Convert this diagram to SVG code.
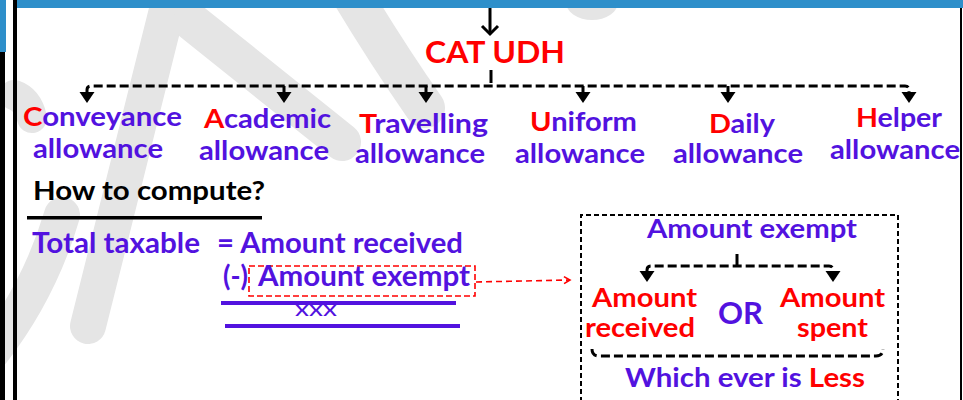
<svg xmlns="http://www.w3.org/2000/svg" width="963" height="400" viewBox="0 0 963 400">
<defs>
<style>
.t{font-family:Lato,"Open Sans","Liberation Sans",sans-serif;font-weight:700;}
.p{fill:#5212df;}
.r{fill:#ff0000;}
.k{fill:#000;}
.wm{fill:none;stroke:#e5e5e5;stroke-linecap:round;}
.dash{fill:none;stroke:#000;stroke-width:3;stroke-dasharray:9 4;}
.solid{fill:none;stroke:#000;stroke-width:3;}
</style>
<path id="tri" d="M-7.5,0 L7.5,0 L0,11 Z" fill="#000"/>
<marker id="redhead" markerWidth="10" markerHeight="10" refX="8" refY="5" orient="auto" markerUnits="userSpaceOnUse">
<path d="M2,1.5 L8,5 L2,8.5" fill="none" stroke="#ff0000" stroke-width="1.6"/>
</marker>
</defs>
<rect width="963" height="400" fill="#fff"/>
<g id="watermark">
<path class="wm" stroke-width="36" d="M172,-10 L88,326"/>
<path class="wm" stroke-width="36" d="M-8,352 Q40,290 62,215"/>
<path class="wm" stroke-width="30" d="M14,95 Q28,100 32,118"/>
<path class="wm" stroke-width="38" d="M192,22 L342,142"/>
<path class="wm" stroke-width="40" d="M350,-8 Q388,55 425,108"/>
<ellipse cx="592" cy="2" rx="26" ry="18" fill="#e5e5e5"/>
</g>
<g id="frame">
<rect x="16" y="0" width="947" height="8" fill="#2e8fca"/>
<rect x="0" y="0" width="6" height="52" fill="#2e8fca"/>
<rect x="0" y="52" width="5" height="348" fill="#000"/>
<rect x="13" y="0" width="4" height="400" fill="#000"/>
<rect x="960" y="8" width="2" height="392" fill="#000"/>
</g>
<g id="connectors">
<path class="solid" d="M490,8 V34"/>
<path class="solid" d="M482,26 L490,34 L498,26"/>
<path class="solid" d="M491,70 V83"/>
<path class="dash" d="M87,94 V90 Q87,86 91,86 H905 Q909,86 909,90 V94"/>
<path class="solid" d="M284,86 V94 M426,86 V94 M583,86 V94 M728,86 V94"/>
<use href="#tri" x="87" y="92"/>
<use href="#tri" x="284" y="92"/>
<use href="#tri" x="426" y="92"/>
<use href="#tri" x="583" y="92"/>
<use href="#tri" x="728" y="92"/>
<use href="#tri" x="909" y="92"/>
<line x1="221" y1="303" x2="456" y2="303" stroke="#5212df" stroke-width="4"/>
<line x1="225" y1="326" x2="460" y2="326" stroke="#5212df" stroke-width="4"/>
<rect x="249" y="266" width="226" height="30" fill="none" stroke="#ff0000" stroke-width="1.6" stroke-dasharray="6 3"/>
<path d="M476,282 L570,280" fill="none" stroke="#ff0000" stroke-width="1.6" stroke-dasharray="6 4" marker-end="url(#redhead)"/>
<path d="M581,402 V215 H898 V402" fill="none" stroke="#000" stroke-width="2" stroke-dasharray="5 3"/>
<path class="solid" d="M737,254 V265"/>
<path class="dash" d="M647,273 V270 Q647,266 651,266 H829 Q833,266 833,270 V273"/>
<use href="#tri" x="647" y="271"/>
<use href="#tri" x="833" y="271"/>
<path class="dash" d="M592,349 Q592,356 599,356 H876 Q883,356 883,349"/>
</g>
<g id="node-catudh"><text class="t r" x="425" y="63" font-size="31" textLength="140" lengthAdjust="spacingAndGlyphs">CAT UDH</text></g>
<g id="node-conveyance" class="t p" font-size="27">
<text x="23" y="126" textLength="159" lengthAdjust="spacingAndGlyphs"><tspan class="r">C</tspan>onveyance</text>
<text x="33" y="158" textLength="130" lengthAdjust="spacingAndGlyphs">allowance</text>
</g>
<g id="node-academic" class="t p" font-size="27">
<text x="204" y="128" textLength="127" lengthAdjust="spacingAndGlyphs"><tspan class="r">A</tspan>cademic</text>
<text x="199" y="160" textLength="130" lengthAdjust="spacingAndGlyphs">allowance</text>
</g>
<g id="node-travelling" class="t p" font-size="27">
<text x="359" y="133" textLength="129" lengthAdjust="spacingAndGlyphs"><tspan class="r">T</tspan>ravelling</text>
<text x="355" y="163" textLength="130" lengthAdjust="spacingAndGlyphs">allowance</text>
</g>
<g id="node-uniform" class="t p" font-size="27">
<text x="530" y="131" textLength="107" lengthAdjust="spacingAndGlyphs"><tspan class="r">U</tspan>niform</text>
<text x="515" y="163" textLength="130" lengthAdjust="spacingAndGlyphs">allowance</text>
</g>
<g id="node-daily" class="t p" font-size="27">
<text x="709" y="133" textLength="66" lengthAdjust="spacingAndGlyphs"><tspan class="r">D</tspan>aily</text>
<text x="673" y="163" textLength="130" lengthAdjust="spacingAndGlyphs">allowance</text>
</g>
<g id="node-helper" class="t p" font-size="27">
<text x="856" y="127" textLength="86" lengthAdjust="spacingAndGlyphs"><tspan class="r">H</tspan>elper</text>
<text x="830" y="159" textLength="130" lengthAdjust="spacingAndGlyphs">allowance</text>
</g>
<g id="node-howto">
<text class="t k" x="33" y="200" font-size="27" textLength="232" lengthAdjust="spacingAndGlyphs">How to compute?</text>
<rect x="27" y="216" width="235" height="3.5" fill="#000"/>
</g>
<g id="node-formula" class="t p" font-size="28">
<text x="32" y="253" textLength="168" lengthAdjust="spacingAndGlyphs">Total taxable</text>
<text x="217" y="253" textLength="246" lengthAdjust="spacingAndGlyphs">= Amount received</text>
<text x="223" y="286" textLength="25" lengthAdjust="spacingAndGlyphs">(-)</text>
<text x="258" y="286" textLength="212" lengthAdjust="spacingAndGlyphs">Amount exempt</text>
<text x="295" y="316" font-size="22" font-weight="400" textLength="42" lengthAdjust="spacingAndGlyphs">xxx</text>
</g>
<g id="node-exempt-box" class="t" font-size="26">
<text class="p" x="647" y="238" textLength="210" lengthAdjust="spacingAndGlyphs">Amount exempt</text>
<text class="r" x="592" y="307" textLength="105" lengthAdjust="spacingAndGlyphs">Amount</text>
<text class="r" x="585" y="337" textLength="110" lengthAdjust="spacingAndGlyphs">received</text>
<text class="p" x="718" y="324" font-size="30" textLength="45" lengthAdjust="spacingAndGlyphs">OR</text>
<text class="r" x="780" y="307" textLength="105" lengthAdjust="spacingAndGlyphs">Amount</text>
<text class="r" x="797" y="337" textLength="71" lengthAdjust="spacingAndGlyphs">spent</text>
<text class="p" x="625" y="387" textLength="240" lengthAdjust="spacingAndGlyphs">Which ever is <tspan class="r">Less</tspan></text>
</g>
</svg>
